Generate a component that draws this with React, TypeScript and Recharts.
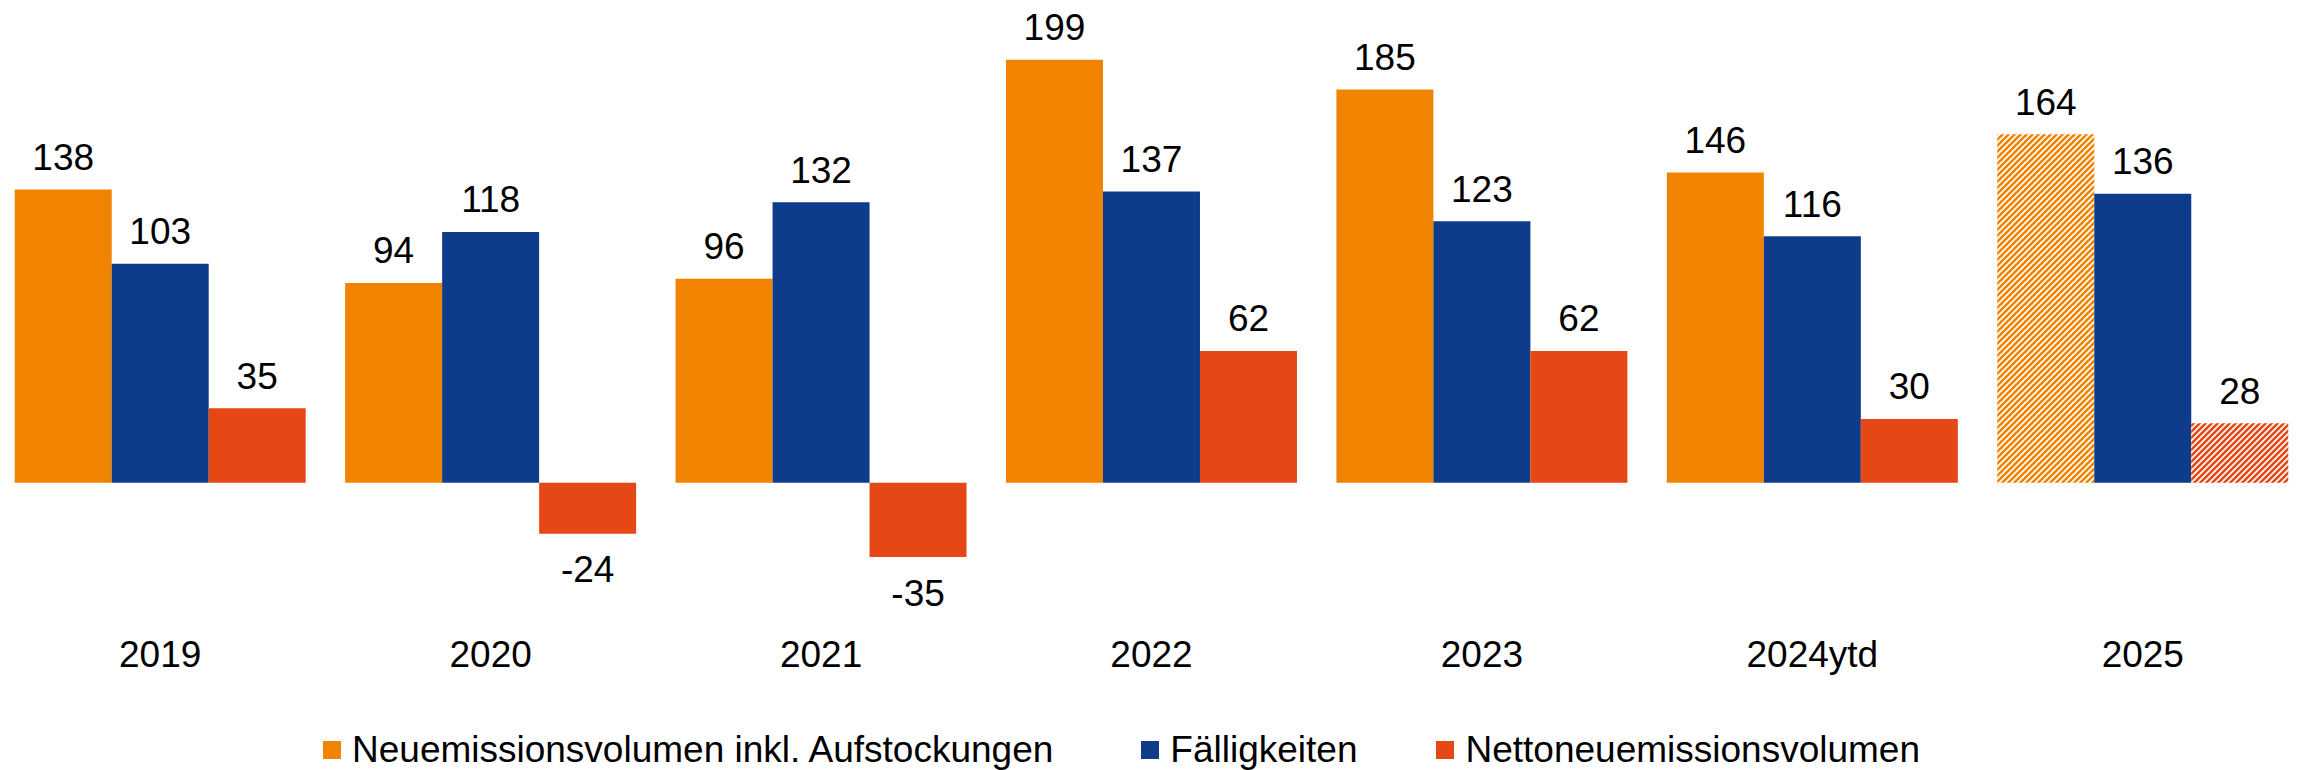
import React from 'react';
import { BarChart, Bar, XAxis, YAxis, Legend, LabelList, Cell } from 'recharts';

const categories = ['2019', '2020', '2021', '2022', '2023', '2024ytd', '2025'];
const neuemission = [138, 94, 96, 199, 185, 146, 164];
const faelligkeiten = [103, 118, 132, 137, 123, 116, 136];
const netto = [35, -24, -35, 62, 62, 30, 28];
const isForecast = [false, false, false, false, false, false, true];
const seriesNames = ['Neuemissionsvolumen inkl. Aufstockungen', 'Fälligkeiten', 'Nettoneuemissionsvolumen'];
const seriesKeys = ['neu', 'faell', 'netto'];
const seriesColors = ['#F08300', '#0F3C8A', '#E54815'];
const hatchIds = ['hatchOrange', '', 'hatchRed'];
const yDomain: [number, number] = [-60, 220];

const data = categories.map((c, i) => ({
  cat: c,
  neu: neuemission[i],
  faell: faelligkeiten[i],
  netto: netto[i],
  forecast: isForecast[i],
}));

const FONT = '"Liberation Sans", Arial, Helvetica, sans-serif';
const FS = 37;

const renderLabel = (props: any) => {
  const vb = props.viewBox || {};
  const x = props.x ?? vb.x;
  const y = props.y ?? vb.y;
  const width = props.width ?? vb.width;
  const height = props.height ?? vb.height;
  const value = props.value;
  const top = Math.min(y, y + height);
  const bottom = Math.max(y, y + height);
  const cx = x + width / 2;
  const ty = value >= 0 ? top - 19.5 : bottom + 48.5;
  return (
    <text x={cx} y={ty} textAnchor="middle" fontSize={FS} fontFamily={FONT} fill="#000">
      {value}
    </text>
  );
};

const Tick = (props: any) => {
  const { x, y, payload } = props;
  return (
    <text x={x} y={y + 56.5} textAnchor="middle" fontSize={FS} fontFamily={FONT} fill="#000">
      {payload.value}
    </text>
  );
};

const legendGaps = [88, 79, 0];

const LegendContent = () => (
  <div
    style={{
      display: 'flex',
      alignItems: 'center',
      height: 40,
      fontFamily: FONT,
      fontSize: FS,
      color: '#000',
      whiteSpace: 'nowrap',
    }}
  >
    {seriesNames.map((n, i) => (
      <div key={n} style={{ display: 'flex', alignItems: 'center', marginRight: legendGaps[i] }}>
        <span style={{ display: 'inline-block', width: 18, height: 18, background: seriesColors[i], marginRight: 11 }} />
        <span style={{ lineHeight: '40px' }}>{n}</span>
      </div>
    ))}
  </div>
);

export default function App() {
  return (
    <div style={{ position: 'absolute', left: 0, top: 0, width: 2298, height: 770, overflow: 'hidden', background: '#fff' }}>
      <div style={{ position: 'relative', left: -5 }}>
        <BarChart
          width={2313}
          height={770}
          data={data}
          margin={{ top: 15.2, right: 0, left: 0, bottom: 59.8 }}
          barGap={0}
          barCategoryGap={19.7}
        >
          <defs>
            <pattern id="hatchOrange" patternUnits="userSpaceOnUse" width="6" height="6">
              <rect width="6" height="6" fill="#fff" />
              <path d="M-1,1 l2,-2 M0,6 l6,-6 M5,7 l2,-2" stroke="#F08300" strokeWidth="2.6" />
            </pattern>
            <pattern id="hatchRed" patternUnits="userSpaceOnUse" width="6" height="6">
              <rect width="6" height="6" fill="#fff" />
              <path d="M-1,1 l2,-2 M0,6 l6,-6 M5,7 l2,-2" stroke="#E54815" strokeWidth="2.6" />
            </pattern>
          </defs>
          <XAxis
            dataKey="cat"
            axisLine={false}
            tickLine={false}
            tickSize={0}
            tickMargin={0}
            height={60}
            tick={<Tick />}
            interval={0}
          />
          <YAxis hide domain={yDomain} allowDataOverflow />
          <Legend
            verticalAlign="bottom"
            content={<LegendContent />}
            wrapperStyle={{ position: 'absolute', top: 730, left: 328, height: 40 }}
          />
          {seriesKeys.map((k, si) => (
            <Bar key={k} dataKey={k} name={seriesNames[si]} fill={seriesColors[si]} isAnimationActive={false}>
              {data.map((d, i) => (
                <Cell
                  key={i}
                  fill={d.forecast && hatchIds[si] ? `url(#${hatchIds[si]})` : seriesColors[si]}
                />
              ))}
              <LabelList dataKey={k} content={renderLabel} />
            </Bar>
          ))}
        </BarChart>
      </div>
    </div>
  );
}
